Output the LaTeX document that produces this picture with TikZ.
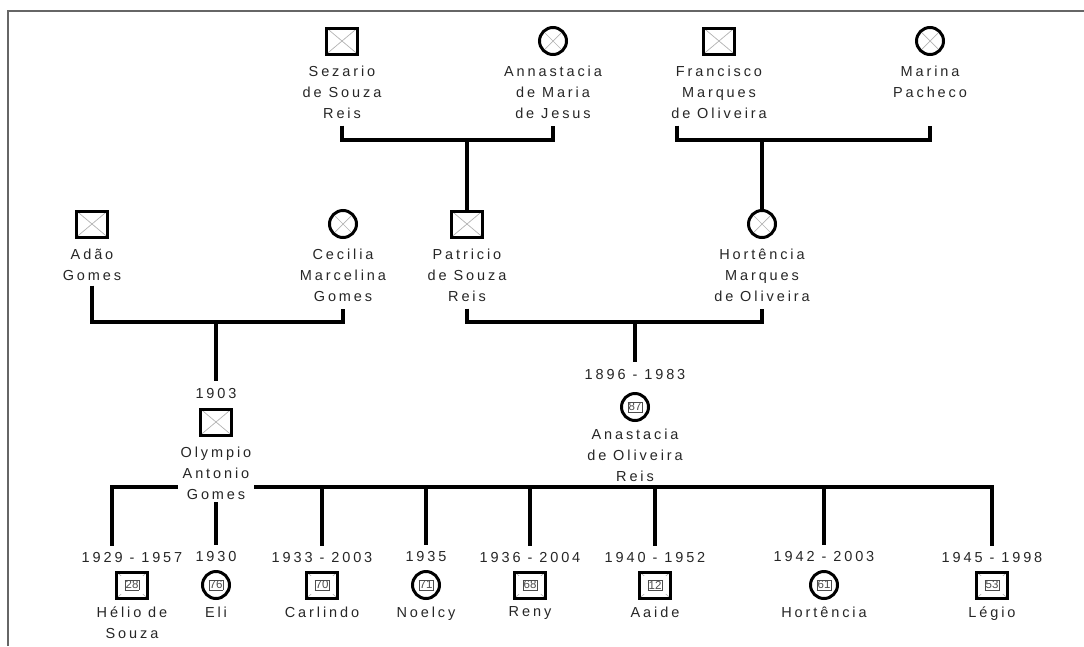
\documentclass[tikz,border=0pt]{standalone}
\usepackage{fontspec}
\setmainfont{Liberation Sans}[LetterSpace=20]
\newfontfamily\plainfam{Liberation Sans}
\usetikzlibrary{positioning,calc,backgrounds}
\newcommand{\namefont}{\fontsize{14.5}{21}\selectfont}
\newcommand{\agefont}{\plainfam\fontsize{11.5}{12}\selectfont}
\newcommand{\agebox}[1]{{\setlength{\fboxsep}{0.8pt}\setlength{\fboxrule}{0.3pt}\fbox{#1}}}
\newcommand{\crossx}{%
    \draw[gray!60, line width=0.7pt]
        (path picture bounding box.north west) -- (path picture bounding box.south east)
        (path picture bounding box.north east) -- (path picture bounding box.south west);}
\newcommand{\cornerticks}{%
    \foreach \c in {north west,north east,south west,south east}
        \draw[gray!60, line width=0.6pt] (path picture bounding box.\c) -- ($(path picture bounding box.\c)!0.3!(path picture bounding box.center)$);}
\tikzset{
    male/.style = {draw, rectangle, line width=3pt,
        minimum width=31pt, minimum height=26pt, inner sep=0pt,
        path picture={\crossx}},
    female/.style = {draw, circle, line width=3pt,
        minimum size=27pt, inner sep=0pt,
        path picture={\crossx}},
    kidm/.style = {male, font=\agefont, text=black!70, path picture={\cornerticks}},
    kidf/.style = {female, font=\agefont, text=black!70, path picture={}},
    lbl/.style = {align=center, font=\namefont, text=black!85, inner sep=1pt},
    yr/.style = {font=\namefont, text=black!85, inner sep=1pt},
    link/.style = {draw, line width=3.2pt}
}

\begin{document}
\begin{tikzpicture}[x=1pt, y=-1pt, node distance=9pt]
    \useasboundingbox (0,0) rectangle (1084,646);
    \draw[black!60, line width=1.3pt] (8,646) |- (1084,11);

    % great-grandparents
    \node [male] (sez) at (342,41) {};
    \node [lbl, below=of sez] (sezl) {Sezario\\de Souza\\Reis};
    \node [female] (ann) at (553,41) {};
    \node [lbl, below=of ann] (annl) {Annastacia\\de Maria\\de Jesus};
    \node [male] (fra) at (719,41) {};
    \node [lbl, below=of fra] (fral) {Francisco\\Marques\\de Oliveira};
    \node [female] (mar) at (930,41) {};
    \node [lbl, below=of mar] (marl) {Marina\\Pacheco};

    % grandparents
    \node [male] (ada) at (92,224) {};
    \node [lbl, below=of ada] (adal) {Adão\\Gomes};
    \node [female] (cec) at (343,224) {};
    \node [lbl, below=of cec] (cecl) {Cecilia\\Marcelina\\Gomes};
    \node [male] (pat) at (467,224) {};
    \node [lbl, below=of pat] (patl) {Patricio\\de Souza\\Reis};
    \node [female] (hor) at (762,224) {};
    \node [lbl, below=of hor] (horl) {Hortência\\Marques\\de Oliveira};

    % parents
    \node [male] (oly) at (216,422) {};
    \node [yr, above=8pt of oly] (olyy) {1903};
    \node [lbl, fill=white, inner sep=3pt, below=7pt of oly] (olyl) {Olympio\\Antonio\\Gomes};
    \node [kidf] (ana) at (635,407) {\agebox{87}};
    \node [yr, above=11pt of ana] (anay) {1896 - 1983};
    \node [lbl, fill=white, inner sep=3pt, below=4pt of ana] (anal) {Anastacia\\de Oliveira\\Reis};

    % children
    \foreach \id/\x/\kind/\age/\yrs/\nm in {
        hel/132/kidm/28/1929 - 1957/{Hélio de\\Souza},
        eli/216/kidf/76/1930/Eli,
        car/322/kidm/70/1933 - 2003/Carlindo,
        noe/426/kidf/71/1935/Noelcy,
        ren/530/kidm/68/1936 - 2004/Reny,
        aai/655/kidm/12/1940 - 1952/Aaide,
        hrt/824/kidf/61/1942 - 2003/Hortência,
        leg/992/kidm/53/1945 - 1998/Légio}
    {
        \node [\kind] (\id) at (\x,585) {\agebox{\age}};
        \node [yr, above=7pt of \id] (\id-y) {\yrs};
        \node [lbl, below=6pt of \id] (\id-l) {\nm};
    }

    % connectors
    \coordinate (m1) at (pat |- 0,140);
    \coordinate (m2) at (hor |- 0,140);
    \coordinate (m3) at (oly |- 0,322);
    \coordinate (m4) at (ana |- 0,322);
    \coordinate (barl) at (112,487);
    \coordinate (barr) at (leg |- 0,487);
    \begin{scope}[on background layer]
        \draw [link] ([yshift=-6pt]sezl.south) |- (m1) -| ([yshift=-6pt]annl.south);
        \draw [link] (m1) -- (pat.north);
        \draw [link] ([xshift=-42pt, yshift=-6pt]fral.south) |- (m2) -| ([yshift=-6pt]sezl.south -| marl.south);
        \draw [link] (m2) -- (hor.north);
        \draw [link] ([yshift=-4pt]adal.south) |- (m3) -| ([yshift=-6pt]cecl.south);
        \draw [link] (m3) -- ([yshift=6pt]olyy.north);
        \draw [link] ([yshift=-6pt]patl.south) |- (m4) -| ([yshift=-6pt]horl.south);
        \draw [link] (m4) -- ([yshift=6pt]anay.north);
        \draw [link] ([yshift=5pt]hel-y.north -| barl) -- (barl) -- (barr) -- ([yshift=5pt]leg-y.north);
        \foreach \id in {eli,car,noe,ren,aai,hrt}
            \draw [link] (\id-y.north |- barl) -- ([yshift=5pt]\id-y.north);
    \end{scope}
\end{tikzpicture}
\end{document}
